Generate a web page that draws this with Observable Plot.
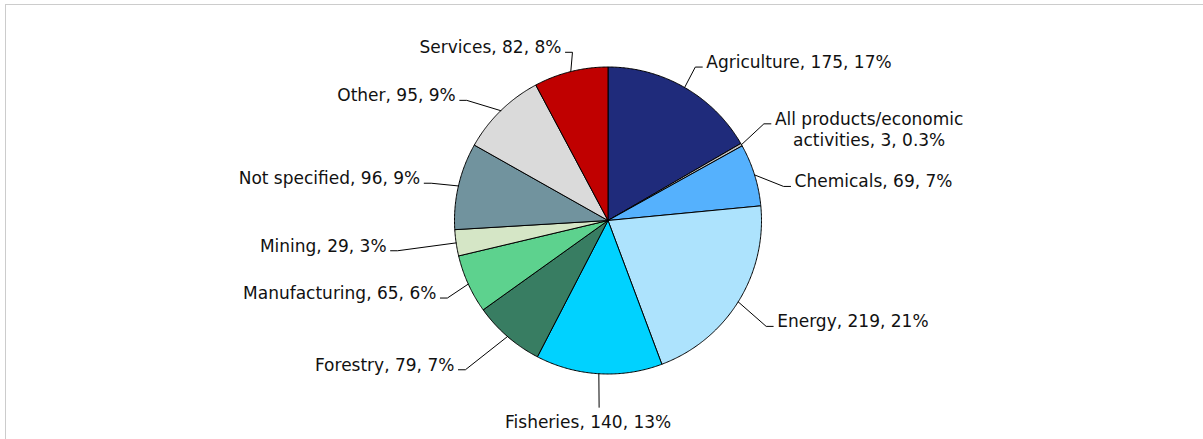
<!DOCTYPE html>
<html><head><meta charset="utf-8">
<script src="https://cdn.jsdelivr.net/npm/d3@7"></script>
<script src="https://cdn.jsdelivr.net/npm/@observablehq/plot@0.6"></script>
<style>
html,body{margin:0;padding:0;background:#fff;}
#wrap{position:relative;width:1203px;height:439px;overflow:hidden;}
#frame{position:absolute;left:5px;top:4px;width:1300px;height:500px;border-top:1.5px solid #cccccc;border-left:1.5px solid #cccccc;pointer-events:none;}
</style></head><body>
<div id="wrap"><div id="chart"></div><div id="frame"></div></div>
<script>
// ---- data ----
const categories = ["Agriculture","All products/economic activities","Chemicals","Energy","Fisheries","Forestry","Manufacturing","Mining","Not specified","Other","Services"];
const values = [175,3,69,219,140,79,65,29,96,95,82];
const percentLabels = ["17%","0.3%","7%","21%","13%","7%","6%","3%","9%","9%","8%"];
const colors = ["#1f2b7b","#bfbfbf","#55b1fd","#ade3fd","#00d2ff","#387d62","#5dd28e","#d5e6c6","#71939e","#dadada","#c00000"];

// ---- layout (label placement, in polar terms) ----
const labelAngleNudge = [-0.3,-2.2,6.3,1.8,-0.7,2.8,-1.3,0.2,-1.1,-5.3,2.1]; // degrees
const labelRadius = [1.15,1.195,1.165,1.24,1.218,1.345,1.162,1.385,1.177,1.208,1.12]; // x pie radius

const W = 1203, H = 439, R = 153.5, CX = 607.5, CY = 220;
const FONT = 17, FAMILY = "DejaVu Sans", LH = 1.24;

const ctx = document.createElement("canvas").getContext("2d");
ctx.font = `${FONT}px "${FAMILY}"`;
function wrap(s, maxW) {
  const words = s.split(" ");
  const lines = [];
  let cur = "";
  for (const w of words) {
    const t = cur ? cur + " " + w : w;
    if (cur && ctx.measureText(t).width > maxW) { lines.push(cur); cur = w; }
    else cur = t;
  }
  if (cur) lines.push(cur);
  return lines;
}

const arcs = d3.pie().sort(null).value(d => d)(values);

const slices = [];
arcs.forEach((a, i) => {
  const n = Math.max(2, Math.ceil((a.endAngle - a.startAngle) / (Math.PI / 360)));
  slices.push({k: i, x: 0, y: 0, color: colors[i]});
  for (let j = 0; j <= n; j++) {
    const t = a.startAngle + (a.endAngle - a.startAngle) * j / n;
    slices.push({k: i, x: Math.sin(t), y: -Math.cos(t), color: colors[i]});
  }
  slices.push({k: i, x: 0, y: 0, color: colors[i]});
});

const leaders = [];
const labels = [];
arcs.forEach((a, i) => {
  const mid = (a.startAngle + a.endAngle) / 2;
  const la = mid + labelAngleNudge[i] * Math.PI / 180;
  const deg = la * 180 / Math.PI;
  const p0 = {x: Math.sin(mid), y: -Math.cos(mid)};
  const p1 = {x: labelRadius[i] * Math.sin(la), y: -labelRadius[i] * Math.cos(la)};
  const text = `${categories[i]}, ${values[i]}, ${percentLabels[i]}`;
  const lines = wrap(text, 230);
  const w = Math.max(...lines.map(l => ctx.measureText(l).width));
  const lh = FONT * LH;
  leaders.push({k: i, ...p0});
  leaders.push({k: i, ...p1});
  if (Math.abs(deg - 180) < 12) {
    labels.push({text: lines.join("\n"), x: p1.x - 11 / R, y: p1.y + 13.5 / R});
  } else {
    const dir = deg < 180 ? 1 : -1;
    const p2 = {x: p1.x + dir * 7 / R, y: p1.y};
    leaders.push({k: i, ...p2});
    labels.push({
      text: lines.join("\n"),
      x: p2.x + dir * (4 + w / 2) / R,
      y: p2.y + (-6 + (lines.length - 1) * lh / 2) / R
    });
  }
});

const chart = Plot.plot({
  width: W, height: H,
  margin: 0,
  x: {domain: [-CX / R, (W - CX) / R], range: [0, W], axis: null},
  y: {domain: [-CY / R, (H - CY) / R], range: [0, H], axis: null},
  color: {type: "identity"},
  style: {background: "transparent", fontFamily: FAMILY},
  marks: [
    Plot.line(slices, {x: "x", y: "y", z: "k", fill: "color", stroke: "#000", strokeWidth: 1, strokeLinejoin: "round"}),
    Plot.line(leaders, {x: "x", y: "y", z: "k", stroke: "#000", strokeWidth: 1}),
    Plot.text(labels, {x: "x", y: "y", text: "text", textAnchor: "middle", lineAnchor: "middle", lineHeight: LH, fontSize: FONT, fontFamily: FAMILY, fill: "#111"})
  ]
});
document.getElementById("chart").appendChild(chart);
</script>
</body></html>
